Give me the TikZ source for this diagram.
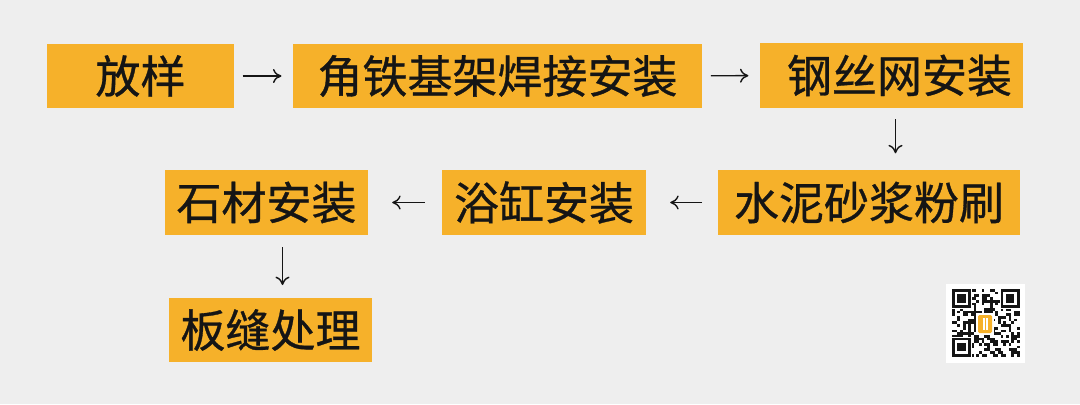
\documentclass[tikz,border=0pt]{standalone}
\usepackage{fontspec}
\usetikzlibrary{arrows.meta}
\newfontfamily\cjk{Noto Sans CJK SC}[FakeBold=0.7]
\definecolor{Canvas}{HTML}{EEEEEE}
\definecolor{Amber}{HTML}{F6B12A}
\definecolor{Ink}{HTML}{151515}

\begin{document}
\begin{tikzpicture}[x=0.025cm,y=-0.025cm,
  stepbox/.style={fill=Amber,inner sep=0pt,minimum height=1.6cm,text=Ink,font=\cjk\fontsize{32}{36}\selectfont},
  flow/.style={-{To[length=6pt,width=10pt]},line width=1pt,draw=Ink}]
\fill[Canvas] (0,0) rectangle (1080,404);
% first row
\node[stepbox,minimum width=4.675cm] (fangyang) at (140.5,76){放样\hspace{0.5cm}};
\node[stepbox,minimum width=10.225cm] (jiaotie) at (497.5,76){角铁基架焊接安装};
\node[stepbox,minimum width=6.575cm] (gangsi) at (891.5,75.5){\hspace{0.4cm}钢丝网安装};
% second row
\node[stepbox,minimum width=7.55cm] (shuini) at (869,202.5){水泥砂浆粉刷};
\node[stepbox,minimum width=5.1cm] (yugang) at (544,202.5){浴缸安装};
\node[stepbox,minimum width=5.075cm] (shicai) at (266.5,202.5){石材安装};
% third row
\node[stepbox,minimum width=5.075cm] (banfeng) at (270.5,330){板缝处理};
% arrows
\draw[flow,shorten <=6,shorten >=8] (fangyang) -- (jiaotie);
\draw[flow,shorten <=6,shorten >=8] (jiaotie) -- (gangsi);
\draw[flow,shorten <=8,shorten >=12] ([xshift=0.1cm]gangsi.south) -- ([xshift=0.1cm]gangsi.south |- shuini.north);
\draw[flow,shorten <=11,shorten >=17] (shuini) -- (yugang);
\draw[flow,shorten <=12,shorten >=17] (yugang) -- (shicai);
\draw[flow,shorten <=9,shorten >=9] ([xshift=0.4cm]shicai.south) -- ([xshift=0.4cm]shicai.south |- banfeng.north);
% qr code
\fill[white] (946,284) rectangle (1025,363);
\pgfmathsetseed{17}
\foreach \i in {0,...,24}{\foreach \j in {0,...,24}{
  \pgfmathrandominteger{\bit}{0}{1}
  \ifnum\bit=1 \fill[Ink] (952+2.7*\i,289+2.7*\j) rectangle ++(2.7,2.7);\fi}}
\foreach \a/\b in {0/0,18/0,0/18}{
  \fill[white] (952+2.7*\a-1,289+2.7*\b-1) rectangle ++(20.9,20.9);
  \fill[Ink] (952+2.7*\a,289+2.7*\b) rectangle ++(18.9,18.9);
  \fill[white] (952+2.7*\a+2.7,289+2.7*\b+2.7) rectangle ++(13.5,13.5);
  \fill[Ink] (952+2.7*\a+5.4,289+2.7*\b+5.4) rectangle ++(8.1,8.1);}
\fill[white] (976,313) rectangle (994,335);
\fill[Amber,rounded corners=1] (978,315) rectangle (992,333);
\fill[white] (983,318) rectangle (984.5,330);
\fill[white] (986,318) rectangle (987.5,330);
\end{tikzpicture}
\end{document}
